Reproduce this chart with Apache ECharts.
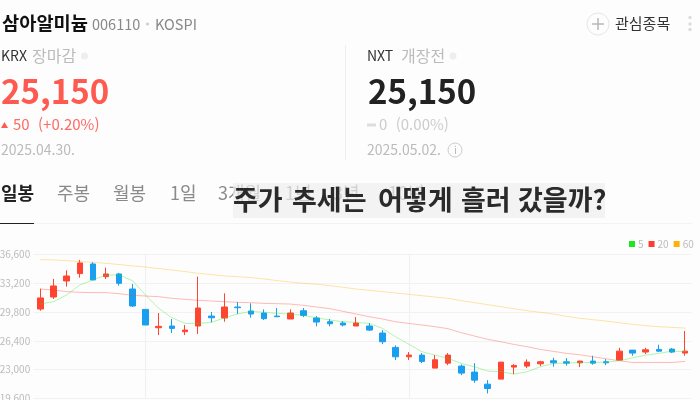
<!DOCTYPE html>
<html lang="ko">
  <head>
    <meta charset="UTF-8" />
    <title>삼아알미늄</title>
    <style>
      html, body { margin: 0; padding: 0; background: #fdfdfd; }
      #main { width: 700px; height: 400px; }
    </style>
  </head>
  <body>
    <div id="main"></div>

    <script src="https://cdn.jsdelivr.net/npm/echarts@6/dist/echarts.min.js"></script>
    <script>
      // [open, close, low, high]
      const candles = [
        [30160, 31470, 29960, 32570], [31580, 32890, 31350, 33720], [33480, 34070, 32810, 34740],
        [34350, 35610, 33880, 35970], [35490, 33600, 33600, 35730], [33990, 34310, 33720, 35060],
        [34310, 33200, 32930, 34430], [32530, 30520, 30400, 33120], [30120, 28270, 28270, 30120],
        [27950, 28110, 27080, 29690], [28150, 27870, 27320, 28980], [27480, 27670, 27080, 28270],
        [28150, 30280, 27200, 33990], [29330, 29130, 28580, 29810], [29100, 30400, 28660, 32020],
        [30400, 30320, 29570, 30990], [29930, 29570, 29130, 30830], [29690, 29020, 28860, 30120],
        [29330, 29250, 29210, 30280], [28980, 29690, 28980, 30120], [29960, 29410, 29210, 30280],
        [29100, 28620, 28110, 29330], [28660, 28420, 28110, 28980], [28500, 28270, 28110, 28740],
        [28150, 28500, 28150, 29210], [28150, 27670, 27560, 28500], [27320, 26290, 26010, 27670],
        [25620, 24510, 24120, 25860], [24510, 24710, 24120, 25070], [24710, 23960, 23760, 24950],
        [23170, 24160, 23170, 24710], [23760, 24710, 23530, 24950], [23410, 22580, 22340, 23600],
        [22700, 21750, 21430, 23760], [21270, 20760, 20170, 21750], [21870, 23880, 21870, 23880],
        [23290, 23490, 22460, 23640], [23410, 23880, 23170, 24200], [23680, 23920, 23410, 24040],
        [24040, 23800, 23330, 24390], [23920, 23760, 23450, 24360], [23800, 24000, 23290, 24040],
        [24000, 23760, 23570, 24630], [23920, 23800, 23530, 24240], [24120, 25180, 24120, 25580],
        [25300, 24950, 24630, 25300], [25070, 25340, 24830, 25580], [25380, 25180, 25110, 25940],
        [25420, 25070, 24950, 25540], [24950, 25180, 24630, 27560]
      ]
      const ma5 = [
        30750, 31030, 31820, 33010, 33600, 34190, 34190, 33520, 31820, 30240,
        29130, 28460, 28460, 28580, 29130, 29570, 29890, 29770, 29650, 29570,
        29410, 29130, 28860, 28660, 28580, 28460, 27870, 26880, 26010, 25110,
        24710, 24320, 23720, 23330, 22820, 22740, 22460, 22740, 23330, 23720,
        23760, 23840, 23840, 23880, 24040, 24390, 24710, 24910, 25180, 25110
      ]
      const ma20 = [
        32530, 32410, 32220, 32140, 32100, 32100, 31980, 31780, 31700, 31620,
        31430, 31310, 31190, 31110, 31030, 30950, 30910, 30830, 30790, 30750,
        30600, 30400, 30200, 29890, 29570, 29250, 28980, 28660, 28460, 28270,
        28070, 27830, 27360, 26960, 26570, 26290, 25970, 25700, 25380, 25150,
        24910, 24750, 24510, 24280, 24040, 23840, 23840, 23840, 23840, 23960
      ]
      const ma60 = [
        36010, 35970, 35890, 35770, 35690, 35570, 35420, 35260, 35140, 34940,
        34780, 34590, 34390, 34230, 34070, 33990, 33880, 33720, 33520, 33360,
        33200, 33090, 32930, 32730, 32530, 32370, 32220, 32060, 31900, 31740,
        31580, 31430, 31150, 30910, 30680, 30440, 30200, 29960, 29770, 29570,
        29290, 29060, 28900, 28740, 28540, 28350, 28190, 28070, 27990, 27910
      ]
      const yTicks = [19600, 23000, 26400, 29800, 33200, 36600]
      const separators = [8, 28] // 세로 구분선 위치 (캔들 index)
      const tabs = ['일봉', '주봉', '월봉', '1일', '3개월', '1년', '3년', '10년']
      const captionWords = ['주가', '추세는', '어떻게', '흘러', '갔을까?']

      const FONT = '"Noto Sans CJK KR", "Noto Sans", sans-serif'
      const UP = '#ff4530'
      const DOWN = '#1a9ff0'

      function txt(text, x, y, size, fill, weight, z) {
        return {
          type: 'text',
          z: z || 10,
          style: {
            text, x, y, fill,
            font: `${weight || 'normal'} ${size}px ${FONT}`,
            verticalAlign: 'middle'
          }
        }
      }
      function box(x, y, width, height, fill, z) {
        return { type: 'rect', z: z || 5, shape: { x, y, width, height }, style: { fill } }
      }
      function dot(cx, cy, r, fill) {
        return { type: 'circle', z: 5, shape: { cx, cy, r }, style: { fill } }
      }
      function ring(cx, cy, r, stroke) {
        return { type: 'circle', z: 5, shape: { cx, cy, r }, style: { fill: 'none', stroke, lineWidth: 1 } }
      }

      const tabX = [1, 57, 113, 170, 218, 285, 333, 388]
      const tabEls = tabs.map((t, i) =>
        i === 0 ? txt(t, tabX[i], 193, 18, '#222', 'bold') : txt(t, tabX[i], 193, 18, '#8a8a8a')
      )
      const captionX = [233, 292, 378, 461, 518]
      const captionEls = captionWords.map((w, i) => txt(w, captionX[i], 200, 27, '#2a2a2a', 'bold', 21))

      const graphics = [
        // 헤더
        txt('삼아알미늄', 2, 23, 18.7, '#111', 'bold'),
        txt('006110', 92, 24, 14.5, '#888'),
        dot(147.5, 24, 1.5, '#ccc'),
        txt('KOSPI', 155, 24, 14.5, '#888'),
        ring(598, 24, 11, '#e6e6e6'),
        box(592, 23.2, 12, 1.6, '#bbb'),
        box(597.2, 18, 1.6, 12, '#bbb'),
        txt('관심종목', 615, 23, 15, '#333'),
        dot(690, 17.5, 1.7, '#ddd'),
        dot(690, 24, 1.7, '#ddd'),
        dot(690, 29.5, 1.7, '#ddd'),

        // KRX
        txt('KRX', 1, 56, 14, '#333'),
        txt('장마감', 32, 56, 16, '#bbb'),
        dot(84.5, 56, 3.5, '#eee'),
        txt('25,150', 1, 91, 33, '#ff5a50', 'bold'),
        { type: 'polygon', z: 5, shape: { points: [[1, 128], [8, 128], [4.5, 122]] }, style: { fill: '#ff5a50' } },
        txt('50  (+0.20%)', 13, 124, 15, '#ff6a62'),
        txt('2025.04.30.', 1, 150, 14, '#bbb'),
        box(345, 45, 1, 115, '#efefef'),

        // NXT
        txt('NXT', 367, 56, 14, '#333'),
        txt('개장전', 401, 56, 16, '#bbb'),
        dot(453, 56, 3.5, '#eee'),
        txt('25,150', 368, 91, 33, '#222', 'bold'),
        box(367, 123.5, 9, 3, '#ddd'),
        txt('0  (0.00%)', 379, 124, 15, '#ccc'),
        txt('2025.05.02.', 367, 150, 14, '#bbb'),
        ring(455, 150, 7, '#ccc'),
        txt('i', 454, 150, 11, '#bbb'),

        // 탭
        ...tabEls,
        box(0, 223, 692, 1, '#f3f3f3', 4),
        box(0, 223, 34, 1, '#222', 5),

        // 캡션
        box(233, 183, 372, 35, 'rgba(238,238,238,0.7)', 20),
        ...captionEls
      ]

      function maLine(name, data, color) {
        return {
          name,
          type: 'line',
          data,
          symbol: 'none',
          smooth: false,
          silent: true,
          z: 3,
          itemStyle: { color },
          lineStyle: { color, width: 1, opacity: 0.35 }
        }
      }

      const chart = echarts.init(document.querySelector('#main'), null, { width: 700, height: 400 })
      chart.setOption({
        animation: false,
        backgroundColor: '#fdfdfd',
        textStyle: { fontFamily: FONT },
        grid: { left: 33.7, right: 8.3, top: 254.6, bottom: 1.7, outerBoundsMode: 'none' },
        legend: {
          left: 629,
          top: 239,
          padding: 0,
          itemWidth: 6,
          itemHeight: 6,
          itemGap: 5,
          icon: 'rect',
          selectedMode: false,
          textStyle: { color: '#bbb', fontSize: 10, padding: [0, 0, 0, -2] },
          data: ['5', '20', '60']
        },
        xAxis: {
          type: 'category',
          data: candles.map((_, i) => i),
          axisLine: { show: false },
          axisTick: { show: false },
          axisLabel: { show: false },
          splitLine: { show: false }
        },
        yAxis: {
          type: 'value',
          min: 19600,
          max: 36600,
          axisLine: { show: false },
          axisTick: { show: false, customValues: yTicks },
          axisLabel: {
            customValues: yTicks,
            color: '#bbb',
            fontSize: 10,
            margin: 3.5,
            formatter: v => v.toLocaleString('en-US')
          },
          splitLine: { show: true, lineStyle: { color: '#f2f2f2', width: 1 } }
        },
        series: [
          {
            type: 'candlestick',
            data: candles,
            barWidth: 6,
            z: 2,
            itemStyle: { color: UP, color0: DOWN, borderColor: UP, borderColor0: DOWN, borderWidth: 1 },
            markLine: {
              z: 0,
              silent: true,
              symbol: 'none',
              label: { show: false },
              lineStyle: { color: '#f0f0f0', width: 1, type: 'solid' },
              data: separators.map(xAxis => ({ xAxis }))
            }
          },
          maLine('5', ma5, '#1de81d'),
          maLine('20', ma20, '#ff3b30'),
          maLine('60', ma60, '#ffb30a')
        ],
        graphic: { elements: graphics }
      })
    </script>
  </body>
</html>
